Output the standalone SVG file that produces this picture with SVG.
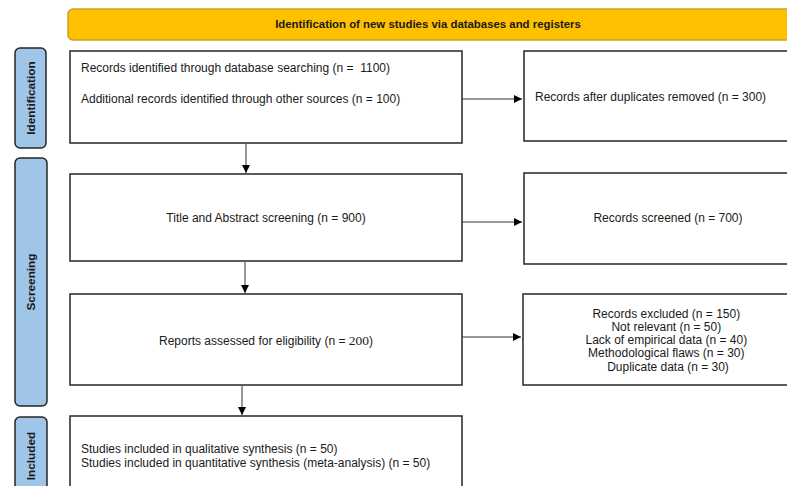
<svg xmlns="http://www.w3.org/2000/svg" width="787" height="486" viewBox="0 0 787 486">
<style>
.box{fill:#fff;stroke:#262626;stroke-width:1.5}
.side{fill:#9fc5e8;stroke:#262626;stroke-width:1.5}
.t{font-family:"Liberation Sans",Arial,sans-serif;font-size:12px;fill:#1a1a1a}
.b{font-family:"Liberation Sans",Arial,sans-serif;font-size:11.4px;font-weight:bold;fill:#1a1a1a}
.s{font-family:"Liberation Sans",Arial,sans-serif;font-size:11.8px;font-weight:bold;fill:#1a1a1a}
.c{stroke:#333;stroke-width:1;fill:none;marker-end:url(#ah)}
</style>
<defs>
<marker id="ah" viewBox="0 0 10 10" refX="10" refY="5" markerWidth="8" markerHeight="8" markerUnits="userSpaceOnUse" orient="auto">
<path d="M0,0 L10,5 L0,10 z" fill="#000"/>
</marker>
</defs>
<g id="banner">
<rect x="68" y="9" width="740" height="31" rx="5" fill="#ffc000" stroke="#c9a227" stroke-width="1.5"/>
<text class="b" x="428" y="28" text-anchor="middle">Identification of new studies via databases and registers</text>
</g>
<g id="side-identification">
<rect class="side" x="15" y="48" width="31" height="100" rx="5"/>
<text class="s" transform="translate(35,98) rotate(-90)" text-anchor="middle">Identification</text>
</g>
<g id="side-screening">
<rect class="side" x="15" y="158" width="32" height="248" rx="5"/>
<text class="s" transform="translate(35,282) rotate(-90)" text-anchor="middle">Screening</text>
</g>
<g id="side-included">
<rect class="side" x="15" y="417" width="32" height="90" rx="5"/>
<text class="s" transform="translate(35,456) rotate(-90)" text-anchor="middle">Included</text>
</g>
<g id="n-identified">
<rect class="box" x="70" y="51" width="392" height="92"/>
<text class="t" x="81" y="72">Records identified through database searching (n =&#160; 1100)</text>
<text class="t" x="81" y="103">Additional records identified through other sources (n = 100)</text>
</g>
<g id="n-duplicates">
<rect class="box" x="524" y="51" width="280" height="90"/>
<text class="t" x="535" y="101">Records after duplicates removed (n = 300)</text>
</g>
<g id="n-title">
<rect class="box" x="70" y="174" width="392" height="87"/>
<text class="t" x="266" y="222" text-anchor="middle">Title and Abstract screening (n = 900)</text>
</g>
<g id="n-screened">
<rect class="box" x="524" y="173" width="280" height="91"/>
<text class="t" x="668" y="222" text-anchor="middle">Records screened (n = 700)</text>
</g>
<g id="n-reports">
<rect class="box" x="70" y="294" width="392" height="91"/>
<text class="t" x="266" y="345" text-anchor="middle">Reports assessed for eligibility (n = <tspan font-family="Liberation Serif,serif" font-size="13.5px">200</tspan>)</text>
</g>
<g id="n-excluded">
<rect class="box" x="523" y="294" width="280" height="91"/>
<text class="t" text-anchor="middle">
<tspan x="668" y="318">Records excluded (n = 150)</tspan>
<tspan x="668" y="331">Not relevant (n = 50)</tspan>
<tspan x="668" y="344">Lack of empirical data (n = 40)</tspan>
<tspan x="668" y="357">Methodological flaws (n = 30)</tspan>
<tspan x="668" y="371">Duplicate data (n = 30)</tspan>
</text>
</g>
<g id="n-included">
<rect class="box" x="70" y="416" width="392" height="90"/>
<text class="t" x="81" y="453">Studies included in qualitative synthesis (n = 50)</text>
<text class="t" x="81" y="467">Studies included in quantitative synthesis (meta-analysis) (n = 50)</text>
</g>
<g id="connectors">
<path class="c" d="M246,144 V173"/>
<path class="c" d="M245,262 V293"/>
<path class="c" d="M242,386 V415"/>
<path class="c" d="M462,99 H522"/>
<path class="c" d="M462,222 H522"/>
<path class="c" d="M462,337 H521"/>
</g>
</svg>
